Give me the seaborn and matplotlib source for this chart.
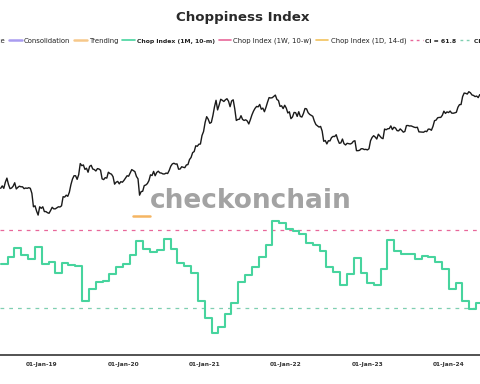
import numpy as np
import pandas as pd
import matplotlib
matplotlib.use("Agg")
import matplotlib.pyplot as plt
from matplotlib.lines import Line2D
import seaborn as sns

# ---------------- data ----------------
price_start = "2018-07-01"  # weekly samples
price_values = [
    # 2018
    6350, 6750, 6350, 7400, 8200, 7000, 6300, 6400, 6700, 7300, 6250, 6500, 6700, 6600,
    6600, 6300, 6400, 6350, 6450, 6350, 5600, 4000, 4100, 3600, 3250, 4000, 3850,
    # 2019
    4000, 3550, 3550, 3450, 3400, 3650, 3950, 3800, 3800, 3900, 4000, 3980, 4100,
    5150, 5100, 5350, 5200, 5750, 6950, 8000, 8700, 8700, 7950, 8950, 11800, 11200,
    11400, 10200, 10500, 9500, 11000, 11300, 10300, 10150, 9800, 10400, 10300, 10000, 8050,
    7900, 8300, 8200, 9500, 9200, 9050, 8500, 7050, 7400, 7550, 7100, 7500, 7400,
    # 2020
    7750, 8200, 8700, 8600, 9350, 10150, 9900, 9650, 8550, 8050, 5350, 5850, 5900,
    6800, 6900, 7150, 7700, 8900, 8750, 9700, 8700, 9450, 9750, 9350, 9300, 9100,
    9100, 9300, 9200, 9950, 11050, 11700, 11900, 11650, 11700, 10250, 10300, 10900, 10750,
    10650, 11400, 11500, 13050, 13750, 15500, 15950, 18400, 18200, 19150, 19250, 23800, 26300,
    # 2021
    33000, 38150, 35800, 32300, 33100, 39300, 48700, 57500, 45200, 51200, 59000, 57500, 55800,
    58200, 59800, 56200, 49000, 56600, 58200, 46400, 34700, 35600, 35800, 39100, 35600, 34700,
    35300, 34250, 31800, 35400, 39900, 43800, 47000, 49300, 48800, 51800, 46000, 47300, 43200,
    48200, 54900, 61500, 60900, 61300, 63300, 65500, 58700, 57200, 49400, 50100, 46700, 50800,
    # 2022
    47300, 41850, 43100, 36300, 37900, 42400, 42200, 38400, 43200, 38400, 37800, 41300, 46800,
    46400, 42200, 40400, 39500, 38500, 34100, 31300, 30300, 29400, 29900, 26600, 20600, 21000,
    19300, 20900, 20800, 22600, 23300, 23200, 24300, 21500, 19600, 19800, 21800, 19400, 18800,
    19600, 19400, 19250, 19600, 20600, 20900, 16300, 16300, 16450, 17100, 17100, 16750, 16850,
    # 2023
    16600, 17100, 20900, 22700, 23700, 22900, 21800, 24600, 23500, 22400, 22000, 28000, 27500,
    28200, 28300, 30300, 27600, 29300, 28700, 26900, 26750, 28100, 27100, 25900, 26350, 30500,
    30600, 30200, 30300, 29800, 29300, 29050, 29300, 26100, 26000, 25850, 25850, 26550, 26250,
    27950, 27900, 27150, 29900, 34500, 35000, 37100, 37450, 37450, 39500, 43800, 41400, 43000, 42300,
    # 2024
    43900, 41700, 41600, 42000, 42600, 48300, 51600, 51700, 63100, 68900, 68400, 67200, 71300,
    69400, 65700, 64900, 63100, 63900, 61500, 66300,
]

chop_start = "2018-07-01"  # monthly, Chop Index (1M, 10-m)
chop_values = [
    51.5, 53.7, 56.4, 54.2, 53.1, 56.7,            # 2018 Jul-Dec
    51.4, 52.2, 48.7, 51.9, 51.2, 50.9, 40.4, 43.9, 46.2, 46.5, 48.5, 50.5,   # 2019
    51.5, 54.4, 58.6, 56.0, 55.2, 55.7, 59.0, 56.1, 51.7, 50.9, 48.9, 40.3,   # 2020
    35.1, 30.8, 32.4, 36.3, 39.6, 46.1, 48.2, 50.5, 53.7, 57.3, 64.6, 63.8,   # 2021
    62.0, 61.6, 60.6, 57.8, 57.3, 55.5, 50.7, 49.2, 45.2, 48.5, 53.2, 48.9,   # 2022
    45.9, 45.1, 50.1, 58.8, 55.5, 54.7, 54.5, 53.1, 54.0, 53.5, 52.0, 50.1,   # 2023
    44.0, 45.7, 40.3, 37.8, 39.8,                   # 2024 Jan-May
]

trending_dates = ["2020-02-15", "2020-04-30"]
trending_level = 66.1

ci_upper = 61.8
ci_lower = 38.2

x_range = ["2018-06-28", "2024-05-20"]
tick_dates = ["2019-01-01", "2020-01-01", "2021-01-01", "2022-01-01", "2023-01-01", "2024-01-01"]
tick_labels = ["01-Jan-19", "01-Jan-20", "01-Jan-21", "01-Jan-22", "01-Jan-23", "01-Jan-24"]

legend_labels = ["Price", "Consolidation", "Trending", "Chop Index (1M, 10-m)",
                 "Chop Index (1W, 10-w)", "Chop Index (1D, 14-d)", "CI = 61.8", "CI = 38.2"]

# ---------------- frames ----------------
price_df = pd.DataFrame({
    "date": pd.date_range(price_start, periods=len(price_values), freq="7D"),
    "price": price_values,
})
chop_dates = list(pd.date_range(chop_start, periods=len(chop_values), freq="MS"))
chop_df = pd.DataFrame({
    "date": chop_dates + [pd.Timestamp(x_range[1])],
    "chop": chop_values + [chop_values[-1]],
})
trend_df = pd.DataFrame({"date": pd.to_datetime(trending_dates),
                         "lvl": [trending_level] * len(trending_dates)})

# ---------------- style ----------------
sns.set_theme(style="white")
plt.rcParams["font.family"] = ["DejaVu Sans"]

GREEN = "#47d49e"
PINK = "#e8679a"
PURPLE = "#a99cf0"
ORANGE_T = "#f6c88a"
GOLD = "#f2c25c"
TREND_LINE = "#f5b562"

fig = plt.figure(figsize=(4.8, 3.84), dpi=100)
ax = fig.add_axes([0.0, 29 / 384, 1.0, 300 / 384])
ax2 = ax.twinx()

# chop index (linear axis)
sns.lineplot(data=chop_df, x="date", y="chop", ax=ax, color=GREEN, lw=1.5,
             drawstyle="steps-post", legend=False, zorder=3)
ax.axhline(ci_upper, color=PINK, lw=0.9, ls=(0, (3, 4)), zorder=2)
ax.axhline(ci_lower, color="#7fcfb0", lw=0.9, ls=(0, (3, 4)), zorder=2)
sns.lineplot(data=trend_df, x="date", y="lvl", ax=ax, color=TREND_LINE, lw=1.8,
             legend=False, zorder=3)
ax.set_ylim(24.0, 114.75)

# price (log axis)
sns.lineplot(data=price_df, x="date", y="price", ax=ax2, color="#1a1a1a", lw=1.0,
             legend=False, zorder=4)
ax2.set_yscale("log")
ax2.set_ylim(98, 178600)

for a in (ax, ax2):
    a.set_xlim(pd.Timestamp(x_range[0]), pd.Timestamp(x_range[1]))
    a.set_ylabel("")
    a.set_xlabel("")
    a.set_yticks([])
    a.yaxis.set_minor_locator(matplotlib.ticker.NullLocator())
    for s in ("top", "left", "right"):
        a.spines[s].set_visible(False)
    a.grid(False)
ax2.spines["bottom"].set_visible(False)
ax.spines["bottom"].set_color("#444444")
ax.spines["bottom"].set_linewidth(1.3)

ax.set_xticks(pd.to_datetime(tick_dates))
ax.set_xticklabels(tick_labels, fontsize=4.2, fontweight="bold", color="#333333")
ax.tick_params(axis="x", length=0, pad=5)
ax2.tick_params(axis="x", length=0)

# watermark
fig.text(0.523, 1 - 201 / 384, "checkonchain", ha="center", va="center",
         fontsize=19, fontweight="bold", color="#a3a3a3", zorder=10)

# title
fig.text(0.506, 1 - 18 / 384, "Choppiness Index", ha="center", va="center",
         fontsize=9.6, fontweight="bold", color="#2a2a2a")

# legend
handles = [
    Line2D([], [], color="#1a1a1a", lw=1.2),
    Line2D([], [], color=PURPLE, lw=1.8),
    Line2D([], [], color=ORANGE_T, lw=1.8),
    Line2D([], [], color=GREEN, lw=1.2),
    Line2D([], [], color=PINK, lw=1.2),
    Line2D([], [], color=GOLD, lw=1.2),
    Line2D([], [], color=PINK, lw=1.0, ls=(0, (2, 2.5))),
    Line2D([], [], color="#7fcfb0", lw=1.0, ls=(0, (2, 2.5))),
]
bold_labels = ("Chop Index (1M, 10-m)", "CI = 61.8", "CI = 38.2")
leg = fig.legend(handles, legend_labels, loc="center", bbox_to_anchor=(0.499, 1 - 41 / 384),
                 ncol=8, frameon=False, fontsize=4.95, handlelength=1.85,
                 handletextpad=0.3, columnspacing=0.55, borderaxespad=0)
for t, lab in zip(leg.get_texts(), legend_labels):
    t.set_color("#222222")
    if lab in bold_labels:
        t.set_fontweight("bold")
        t.set_fontsize(4.45)

fig.savefig("out.png", dpi=100)
